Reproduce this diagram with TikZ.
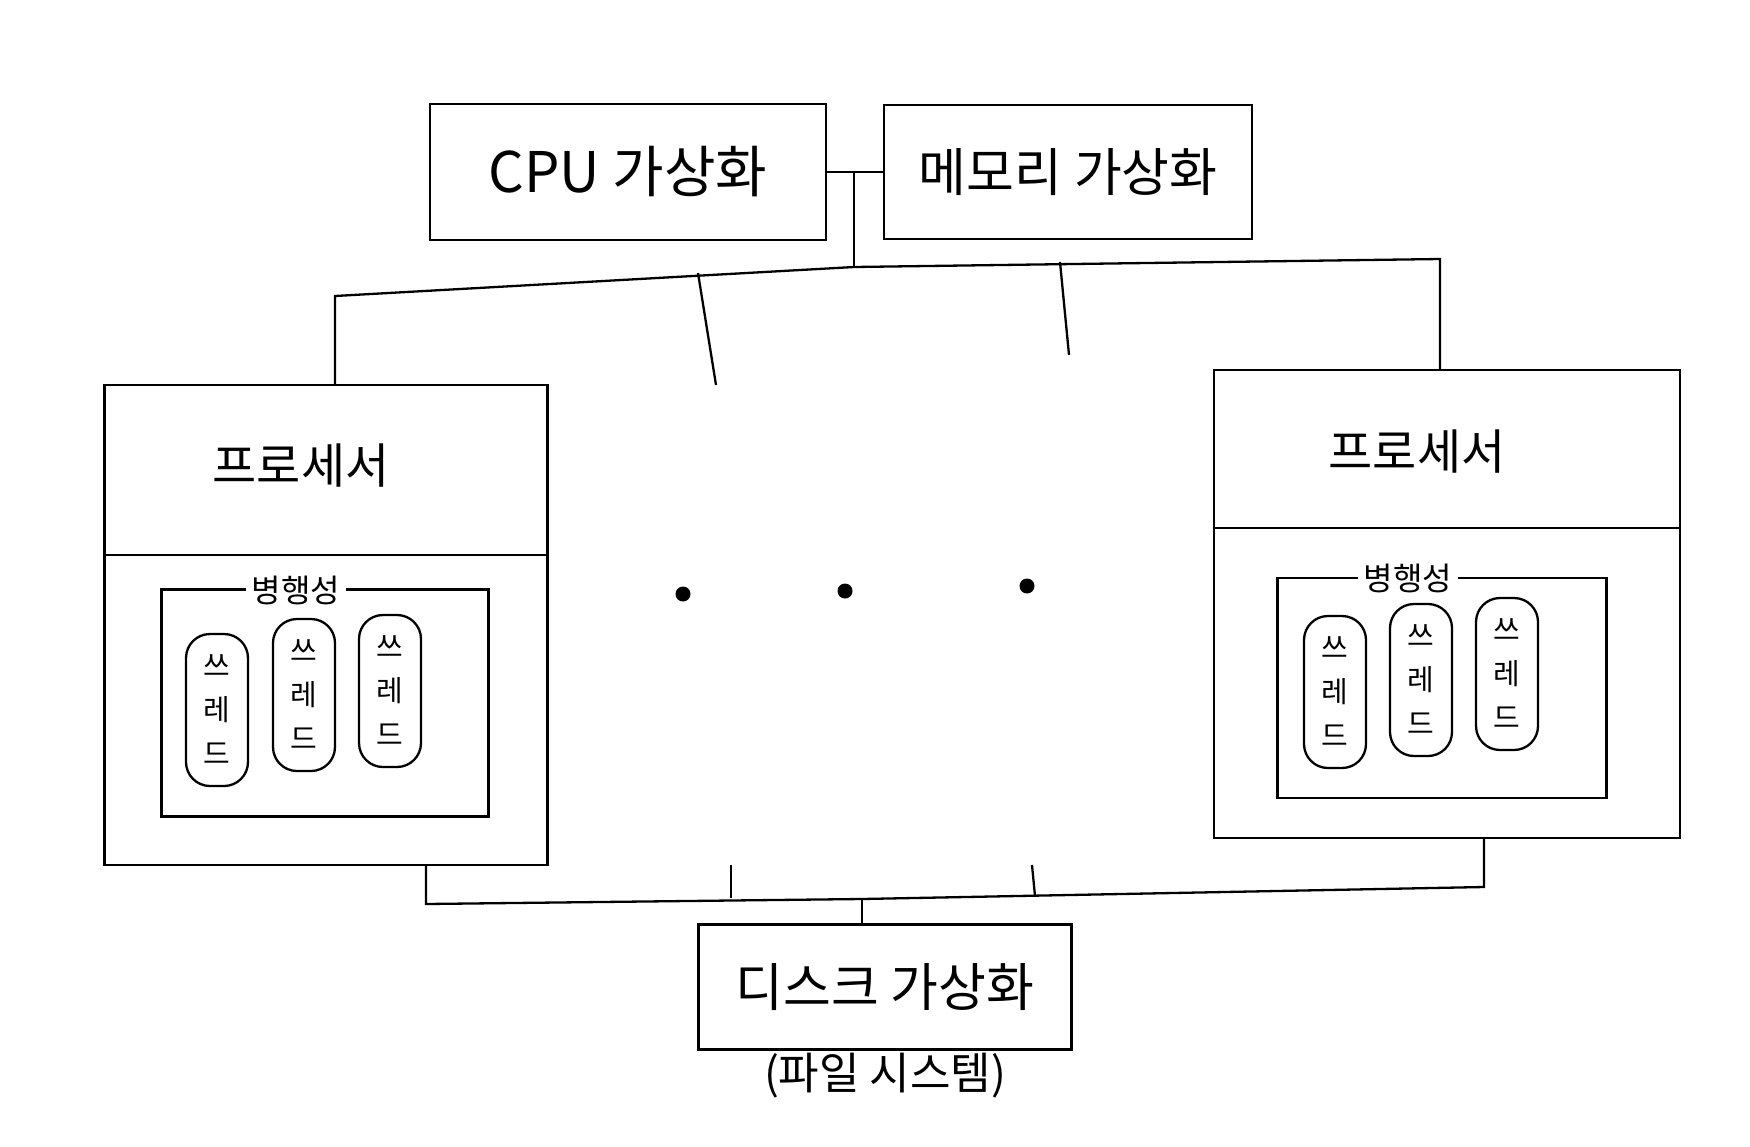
\documentclass[tikz,border=0pt]{standalone}
\usepackage{fontspec}
\setmainfont{Noto Sans CJK KR}
\usetikzlibrary{positioning}

\tikzset{
  vbox/.style={draw, rectangle, inner sep=0pt, font=\fontsize{52pt}{60pt}\selectfont},
  proc/.style={draw, rectangle, inner sep=0pt},
  grp/.style={draw, rectangle, inner sep=0pt},
  thr/.style={draw, rectangle, rounded corners=24pt, minimum width=62pt, minimum height=152pt,
    align=center, inner sep=0pt, font=\fontsize{29pt}{44pt}\selectfont},
  ttl/.style={font=\fontsize{48pt}{58pt}\selectfont},
  glabel/.style={fill=white, inner sep=6pt, font=\fontsize{32pt}{40pt}\selectfont},
  dot/.style={circle, fill, inner sep=0pt, minimum size=15pt}
}

\begin{document}
\begin{tikzpicture}[x=1pt, y=-1pt, line width=2.3pt]
  \useasboundingbox (0,0) rectangle (1750,1146);
  % virtualisation boxes
  \node[vbox, minimum width=396pt, minimum height=136pt, font=\fontsize{56pt}{64pt}\selectfont] (cpu) at (628,172) {CPU 가상화};
  \node[vbox, minimum width=368pt, minimum height=134pt, right=56pt of cpu] (mem) {메모리 가상화};
  \node[vbox, minimum width=373pt, minimum height=125pt] (disk) at (885,987) {디스크 가상화};
  \node[ttl, below=-2pt of disk, font=\fontsize{44pt}{50pt}\selectfont] (fs) {(파일 시스템)};

  % processors
  \node[proc, minimum width=443pt, minimum height=480pt] (lproc) at (326,625) {};
  \node[proc, minimum width=466pt, minimum height=468pt] (rproc) at (1447,604) {};
  \node[ttl] (ltitle) at (301,466) {프로세서};
  \node[ttl] (rtitle) at (1417,452) {프로세서};
  \coordinate (lsep) at (0,555);
  \coordinate (rsep) at (0,528);
  \draw (lproc.west |- lsep) -- (lproc.east |- lsep);
  \draw (rproc.west |- rsep) -- (rproc.east |- rsep);

  \node[grp, minimum width=327pt, minimum height=227pt] (lgrp) at (325,703) {};
  \node[grp, minimum width=329pt, minimum height=220pt] (rgrp) at (1442,688) {};
  \node[glabel] (lconc) at (296,590) {병행성};
  \node[glabel] (rconc) at (1408,578) {병행성};

  \node[thr] (lt1) at (217,710) {쓰\\레\\드};
  \node[thr] (lt2) at (304,695) {쓰\\레\\드};
  \node[thr] (lt3) at (390,691) {쓰\\레\\드};
  \node[thr] (rt1) at (1335,692) {쓰\\레\\드};
  \node[thr] (rt2) at (1421,680) {쓰\\레\\드};
  \node[thr] (rt3) at (1507,674) {쓰\\레\\드};

  \node[dot] (d1) at (683,594) {};
  \node[dot] (d2) at (845,591) {};
  \node[dot] (d3) at (1027,586) {};

  % top bus
  \coordinate (j) at (854,172);
  \coordinate (tl) at (335,296);
  \coordinate (tm) at (854,267);
  \coordinate (tr) at (1440,259);
  \coordinate (s1) at (698,273);
  \coordinate (s1e) at (716,385);
  \coordinate (s2) at (1060,262);
  \coordinate (s2e) at (1069,355);
  \draw (cpu.east |- j) -- (mem.west |- j);
  \draw (j) -- (tm);
  \draw (tl |- lproc.north) -- (tl) -- (tm) -- (tr) -- (tr |- rproc.north);
  \draw (s1) -- (s1e);
  \draw (s2) -- (s2e);

  % bottom bus
  \coordinate (bl) at (426,904);
  \coordinate (bm) at (862,899);
  \coordinate (br) at (1484,887);
  \coordinate (u1) at (731,865);
  \coordinate (u1e) at (731,898);
  \coordinate (u2) at (1032,865);
  \coordinate (u2e) at (1035,896);
  \draw (bl |- lproc.south) -- (bl) -- (bm) -- (br) -- (br |- rproc.south);
  \draw (u1) -- (u1e);
  \draw (u2) -- (u2e);
  \draw (bm) -- (bm |- disk.north);
  %\draw[dashed] (d1) -- (d3);
\end{tikzpicture}
\end{document}
